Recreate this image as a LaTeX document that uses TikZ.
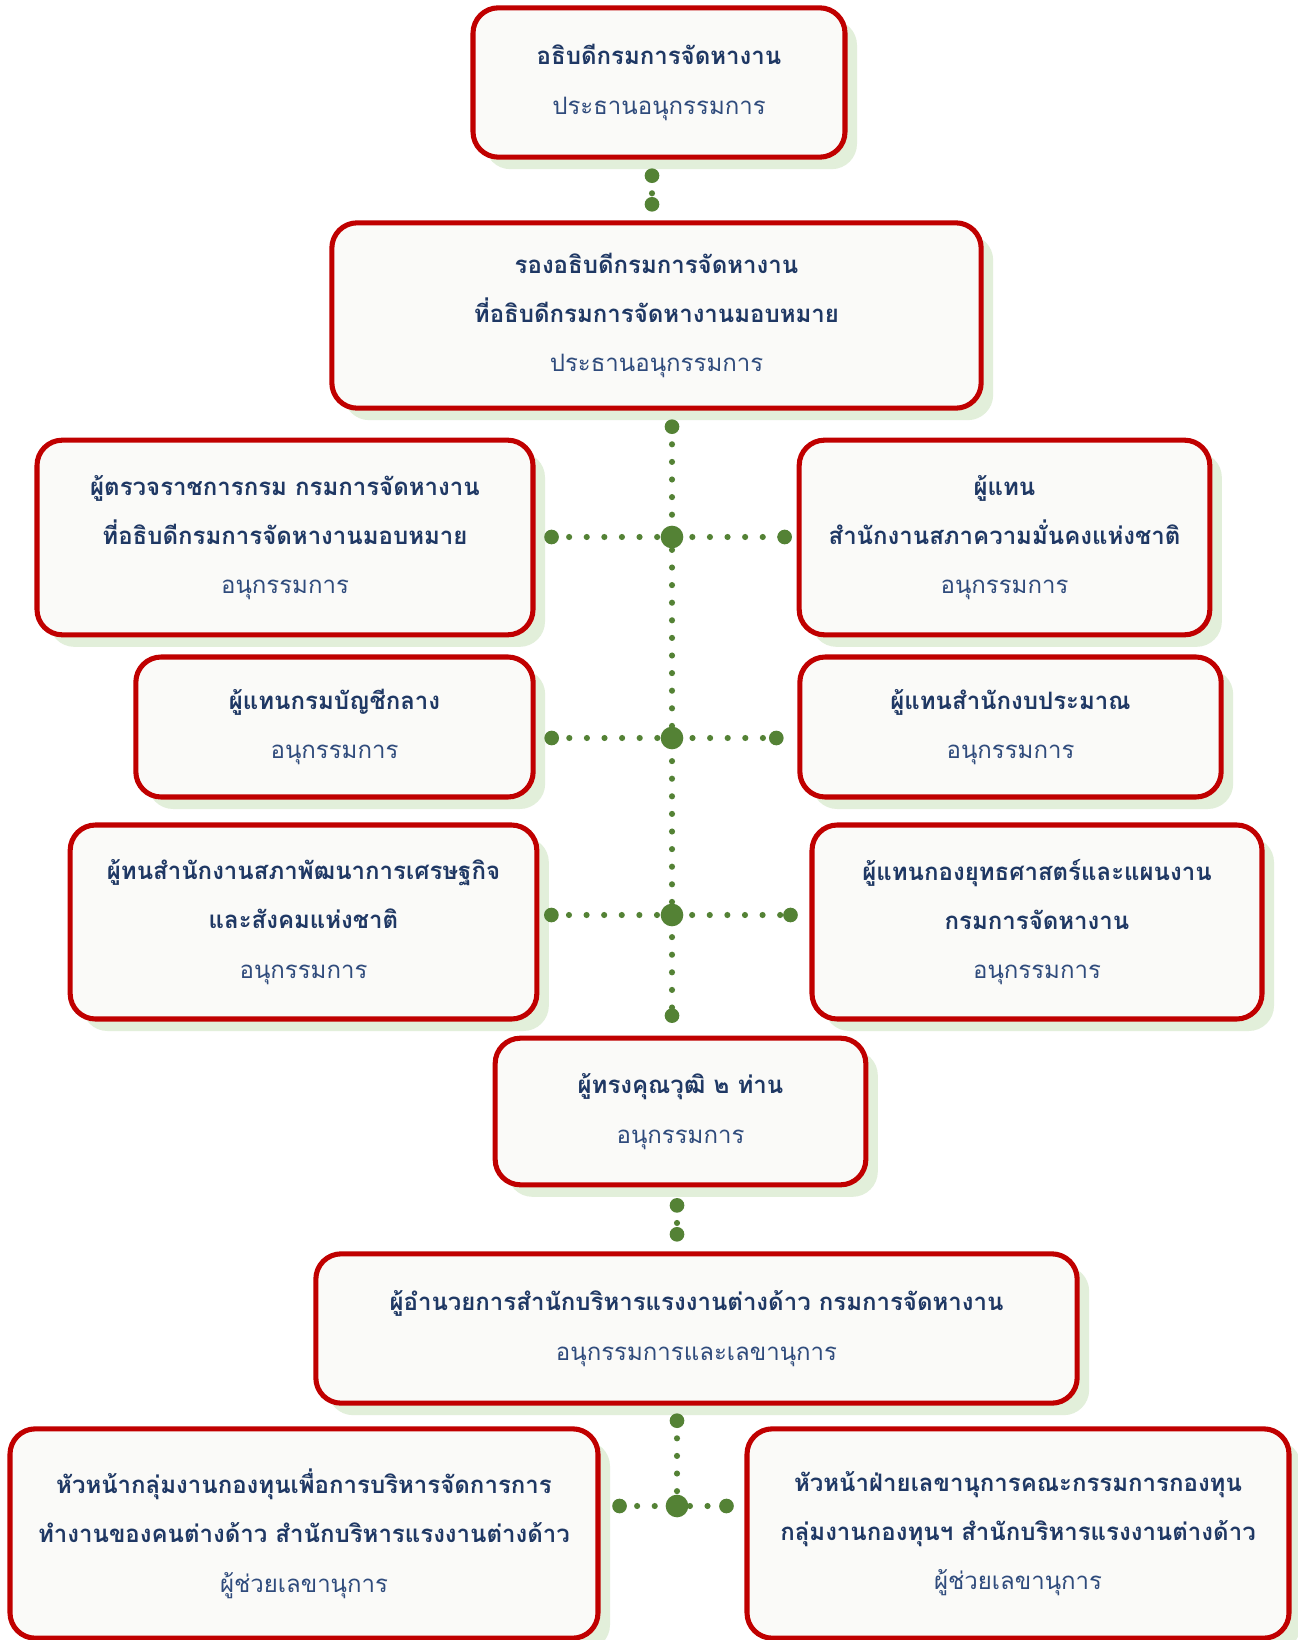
\documentclass[tikz,border=0pt]{standalone}
\usepackage{fontspec}
\usepackage{tikz}
\usetikzlibrary{positioning,shadows,calc}
\newfontfamily\thai[Script=Thai]{Loma}
\definecolor{boxred}{HTML}{C00000}
\definecolor{ngreen}{HTML}{548235}
\definecolor{shgreen}{HTML}{E2EFDA}
\definecolor{navy}{HTML}{1F3864}
\definecolor{rolenavy}{HTML}{2F4B7C}
\definecolor{paper}{HTML}{FAFAF8}
\tikzset{
	orgbox/.style={draw=boxred, line width=3.8pt, fill=paper, rounded corners=19pt,
		align=center, text=navy, inner sep=0pt,
		font=\thai\bfseries\fontsize{18pt}{37pt}\selectfont,
		drop shadow={shadow xshift=9pt, shadow yshift=-9pt, fill=shgreen, opacity=1}},
	dotline/.style={draw=ngreen, line width=4.6pt, line cap=round, dash pattern=on 0pt off 13.2pt},
}
\newcommand{\role}[1]{{\mdseries\color{rolenavy}#1}}

\begin{document}
\begin{tikzpicture}[x=0.75pt, y=-0.75pt]
			\useasboundingbox[fill=white] (0,0) rectangle (1297,1640);

			\node[orgbox, minimum width=279pt, minimum height=112pt] (chair) at (659,82.5)
				{อธิบดีกรมการจัดหางาน\\ \role{ประธานอนุกรรมการ}};
			\node[orgbox, minimum width=487pt, minimum height=139pt] (vice) at (656.5,315.5)
				{รองอธิบดีกรมการจัดหางาน\\ ที่อธิบดีกรมการจัดหางานมอบหมาย\\ \role{ประธานอนุกรรมการ}};

			\node[orgbox, minimum width=372pt, minimum height=146pt] (inspect) at (285,537.5)
				{ผู้ตรวจราชการกรม กรมการจัดหางาน\\ ที่อธิบดีกรมการจัดหางานมอบหมาย\\ \role{อนุกรรมการ}};
			\node[orgbox, minimum width=308pt, minimum height=146pt] (nsc) at (1004.5,537.5)
				{ผู้แทน\\ สำนักงานสภาความมั่นคงแห่งชาติ\\ \role{อนุกรรมการ}};

			\node[orgbox, minimum width=298pt, minimum height=105pt] (cgd) at (334.5,727)
				{ผู้แทนกรมบัญชีกลาง\\ \role{อนุกรรมการ}};
			\node[orgbox, minimum width=316pt, minimum height=105pt] (budget) at (1010.5,727)
				{ผู้แทนสำนักงบประมาณ\\ \role{อนุกรรมการ}};

			\node[orgbox, minimum width=350pt, minimum height=145.5pt] (nesdc) at (303.5,922)
				{ผู้ทนสำนักงานสภาพัฒนาการเศรษฐกิจ\\ และสังคมแห่งชาติ\\ \role{อนุกรรมการ}};
			\node[orgbox, minimum width=337.5pt, minimum height=145.5pt] (strategy) at (1037,922)
				{ผู้แทนกองยุทธศาสตร์และแผนงาน\\ กรมการจัดหางาน\\ \role{อนุกรรมการ}};

			\node[orgbox, minimum width=278pt, minimum height=110pt] (expert) at (680.5,1111.5)
				{ผู้ทรงคุณวุฒิ ๒ ท่าน\\ \role{อนุกรรมการ}};

			\node[orgbox, minimum width=571pt, minimum height=112pt] (director) at (696.5,1328.5)
				{ผู้อำนวยการสำนักบริหารแรงงานต่างด้าว กรมการจัดหางาน\\ \role{อนุกรรมการและเลขานุการ}};

			\node[orgbox, minimum width=441pt, minimum height=157pt] (fundhead) at (304,1533.5)
				{หัวหน้ากลุ่มงานกองทุนเพื่อการบริหารจัดการการ\\ ทำงานของคนต่างด้าว สำนักบริหารแรงงานต่างด้าว\\ \role{ผู้ช่วยเลขานุการ}};
			\node[orgbox, minimum width=406.5pt, minimum height=157pt] (sechead) at (1018,1533.5)
				{หัวหน้าฝ่ายเลขานุการคณะกรรมการกองทุน\\ กลุ่มงานกองทุนฯ สำนักบริหารแรงงานต่างด้าว\\ \role{ผู้ช่วยเลขานุการ}};

			\coordinate (j1) at (672,537);
			\coordinate (j2) at (672,738);
			\coordinate (j3) at (672,915);
			\coordinate (j4) at (677,1506);

			\draw[dotline] ($(chair.south -| 652,0)+(0,16)$) coordinate (e1) -- ($(vice.north -| 652,0)+(0,-16)$) coordinate (e2);
			\draw[dotline] ($(vice.south -| j1)+(0,16)$) coordinate (e3) -- ($(expert.north -| j1)+(0,-20)$) coordinate (e4);
			\draw[dotline] ($(inspect.east |- j1)+(16,0)$) coordinate (e5) -- ($(nsc.west |- j1)+(-12,0)$) coordinate (e6);
			\draw[dotline] ($(cgd.east |- j2)+(16,0)$) coordinate (e7) -- ($(budget.west |- j2)+(-21,0)$) coordinate (e8);
			\draw[dotline] ($(nesdc.east |- j3)+(12,0)$) coordinate (e9) -- ($(strategy.west |- j3)+(-19,0)$) coordinate (e10);
			\draw[dotline] ($(expert.south -| j4)+(0,18)$) coordinate (e11) -- ($(director.north -| j4)+(0,-17)$) coordinate (e12);
			\draw[dotline] ($(director.south -| j4)+(0,15)$) -- (j4);
			\draw[dotline] ($(fundhead.east |- j4)+(19,0)$) coordinate (e13) -- ($(sechead.west |- j4)+(-18,0)$) coordinate (e14);

			\foreach \p in {e1,e2,e3,e4,e5,e6,e7,e8,e9,e10,e11,e12,e13,e14}
			\fill[ngreen] (\p) circle (5.5pt);
			\fill[ngreen] ($(director.south -| j4)+(0,15)$) circle (5.5pt);

			\foreach \j in {j1,j2,j3,j4}
			\fill[ngreen] (\j) circle (8.5pt);
		\end{tikzpicture}
\end{document}
